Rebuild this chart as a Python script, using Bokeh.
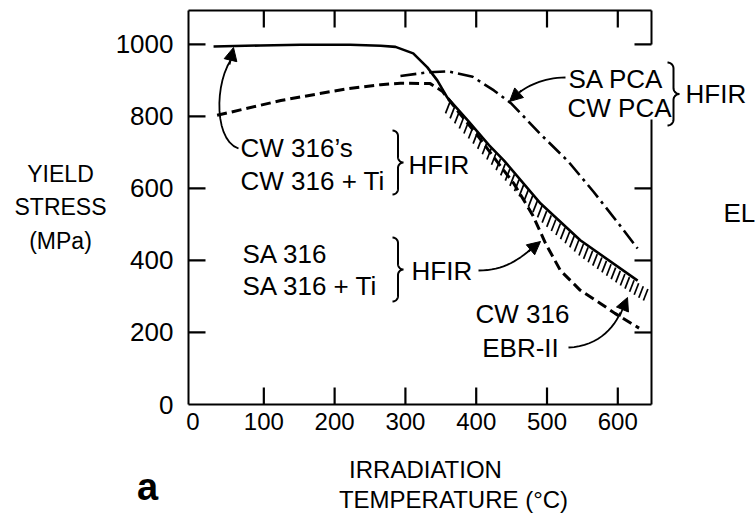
import numpy as np
from bokeh.plotting import figure
from bokeh.models import Range1d, LinearAxis, FixedTicker, Label, Arrow, NormalHead
from bokeh.embed import file_html
from bokeh.resources import INLINE

# ---------------- data ----------------
# CW 316's / CW 316 + Ti, HFIR (solid)
cw_hfir_T = [29, 95, 152, 222, 265, 286, 311, 331, 345, 359, 388, 418, 439, 491, 547, 628]
cw_hfir_S = [994, 997, 999, 999, 996, 993, 975, 936, 900, 853, 789, 720, 678, 558, 456, 344]
# SA 316 / SA 316 + Ti, HFIR (dashed)
sa_hfir_T = [34, 124, 218, 265, 293, 335, 352, 375, 400, 425, 453, 480, 498, 519, 547, 576, 596, 630]
sa_hfir_S = [803, 844, 877, 888, 892, 891, 870, 812, 752, 686, 614, 525, 447, 372, 317, 280, 253, 212]
# SA PCA / CW PCA, HFIR (dash-dot)
pca_hfir_T = [293, 330, 360, 395, 425, 450, 490, 530, 566, 600, 628]
pca_hfir_S = [912, 922, 925, 910, 872, 835, 752, 675, 590, 505, 433]
# CW 316, EBR-II scatter band (hatched, upper edge)
ebr_T = [360, 400, 450, 500, 550, 600, 630, 648]
ebr_top = [851, 765, 652, 540, 452, 380, 340, 318]

x_ticks = [0, 100, 200, 300, 400, 500, 600]
y_ticks = [0, 200, 400, 600, 800, 1000]
y_ticks_right = [200, 400, 600, 1000]
x_label_text = ["IRRADIATION", "TEMPERATURE (°C)"]
y_label_text = ["YIELD", "STRESS", "(MPa)"]

FONT = "Liberation Sans"
W, H = 756, 515
# data limits of the drawn box
X0, X1 = -6.4, 647.6
Y0, Y1 = 0, 1094
# pixel position of the box in the canvas
PX_L, PX_R, PX_T, PX_B = 188, 651, 10, 404
SX = (PX_R - PX_L) / (X1 - X0)
SY = (PX_B - PX_T) / (Y1 - Y0)
TICK = 17  # tick length, px


def P(xpx, ypx):
    """canvas pixel -> data coordinates (for annotation placement)"""
    return (X0 + (xpx - PX_L) / SX, Y0 + (PX_B - ypx) / SY)


xr = Range1d(P(0, 0)[0], P(W, 0)[0])
yr = Range1d(P(0, H)[1], P(0, 0)[1])

p = figure(width=W, height=H, x_range=xr, y_range=yr,
           x_axis_location=None, y_axis_location=None, output_backend="svg",
           toolbar_location=None, min_border=0)
p.outline_line_color = None
p.grid.grid_line_color = None
p.background_fill_color = "white"
p.border_fill_color = "white"


def make_axis(ticks, loc, bounds, labels=True, size="24px", standoff=10):
    ax = LinearAxis(ticker=FixedTicker(ticks=ticks), fixed_location=loc, bounds=bounds)
    ax.major_tick_in = 0
    ax.major_tick_out = 0
    ax.minor_tick_in = 0
    ax.minor_tick_out = 0
    ax.axis_line_width = 2
    ax.axis_line_color = "black"
    ax.major_label_standoff = standoff
    if labels:
        ax.major_label_text_font = FONT
        ax.major_label_text_font_size = size
        ax.major_label_text_color = "black"
    else:
        ax.major_label_text_color = None
    return ax


p.add_layout(make_axis(x_ticks, Y0, (X0, X1), size="24px", standoff=8), "below")
p.add_layout(make_axis(y_ticks, X0, (Y0, Y1), size="26px", standoff=15), "left")
p.add_layout(make_axis(x_ticks[1:], Y1, (X0, X1), labels=False), "above")
# right border is broken where the PCA labels cross it
p.add_layout(make_axis([200, 400, 600], X1, (Y0, 790), labels=False), "right")
p.add_layout(make_axis([1000], X1, (1000, Y1), labels=False), "right")

# inward tick marks at the tick values
dyt = TICK / SY
dxt = TICK / SX


def tick(xa, ya, xb, yb):
    p.add_layout(Arrow(end=None, x_start=xa, y_start=ya, x_end=xb, y_end=yb,
                       line_color="black", line_width=2.2))


for t in x_ticks[1:]:
    tick(t, Y0, t, Y0 + dyt)
    tick(t, Y1, t, Y1 - dyt)
for v in y_ticks[1:]:
    tick(X0, v, X0 + dxt, v)
for v in y_ticks_right:
    tick(X1, v, X1 - dxt, v)

# ---------------- curves ----------------
# hatch strokes hanging below the EBR-II band edge
hT = np.arange(363, 648, 6.5)
hS = np.interp(hT, ebr_T, ebr_top)
p.segment(x0=hT, y0=hS - 1.5 / SY, x1=hT - 4.5 / SX, y1=hS - 13 / SY, line_color="black", line_width=1.7)

p.line(cw_hfir_T, cw_hfir_S, line_color="black", line_width=2.6)
p.line(sa_hfir_T, sa_hfir_S, line_color="black", line_width=3, line_dash="10 5")
p.line(pca_hfir_T, pca_hfir_S, line_color="black", line_width=2.6, line_dash="16 5 3 5")


# ---------------- annotation helpers ----------------
def bez(a, b, c, d, n=14):
    out = []
    for i in range(n + 1):
        t = i / n
        u = 1 - t
        out.append((u**3 * a[0] + 3 * u * u * t * b[0] + 3 * u * t * t * c[0] + t**3 * d[0],
                    u**3 * a[1] + 3 * u * u * t * b[1] + 3 * u * t * t * c[1] + t**3 * d[1]))
    return out


def path(pts, width=1.8):
    dat = [P(*q) for q in pts]
    p.line([q[0] for q in dat], [q[1] for q in dat], line_color="black", line_width=width)


def curve(a, b, c, d):
    path(bez(a, b, c, d))


def head(frm, tip):
    a = P(*frm)
    b = P(*tip)
    p.add_layout(Arrow(end=NormalHead(size=13, fill_color="black", line_color="black", line_width=1),
                       x_start=a[0], y_start=a[1], x_end=b[0], y_end=b[1],
                       line_width=1.8, line_color="black"))


def brace(xl, yt, yb, w):
    r = w / 2.0
    xs = xl + r
    ym = (yt + yb) / 2.0
    k = 0.55 * r
    pts = []
    pts += bez((xl, yt), (xl + k, yt), (xs, yt + r - k), (xs, yt + r))
    pts += bez((xs, ym - r), (xs, ym - r + k), (xs + r - k, ym), (xl + w, ym))
    pts += bez((xl + w, ym), (xs + r - k, ym), (xs, ym + r - k), (xs, ym + r))
    pts += bez((xs, yb - r), (xs, yb - r + k), (xl + k, yb), (xl, yb))
    path(pts, width=2)


def label(xpx, ypx, text, size="26px", align="left", style="normal"):
    x, y = P(xpx, ypx)
    p.add_layout(Label(x=x, y=y, text=text, text_font=FONT, text_font_size=size,
                       text_align=align, text_baseline="middle", text_color="black",
                       text_font_style=style))


# arrows
curve((238, 148), (214, 140), (214, 85), (230, 60))
head((229, 64), (233, 47))
curve((478, 270), (500, 270), (515, 262), (530, 249))
head((528, 251), (540, 241))
curve((568, 347), (595, 346), (612, 330), (620, 312))
head((619, 316), (627, 297))
curve((565, 77), (545, 77), (530, 84), (520, 91))
head((521, 90), (509, 101))

# braces
brace(392, 130, 194, 11)
brace(392, 237, 301, 11)
brace(667, 62, 125, 12)

# texts inside / around the plot
label(240, 147, "CW 316’s")
label(240, 180, "CW 316 + Ti")
label(408, 164, "HFIR")
label(242, 253, "SA 316")
label(242, 285, "SA 316 + Ti")
label(411, 270, "HFIR")
label(522, 313, "CW 316", align="center")
label(520, 347, "EBR-II", align="center")
label(568, 78, "SA PCA")
label(567, 107, "CW PCA")
label(685, 93, "HFIR")
label(723, 212, "EL")

# axis titles
label(60, 173, y_label_text[0], size="23px", align="center")
label(60, 206, y_label_text[1], size="23px", align="center")
label(60, 240, y_label_text[2], size="23px", align="center")
label(425, 469, x_label_text[0], size="24px", align="center")
label(453, 499, x_label_text[1], size="24px", align="center")
label(147, 486, "a", size="38px", align="center", style="bold")

open("out.html", "w").write(file_html(p, INLINE))
